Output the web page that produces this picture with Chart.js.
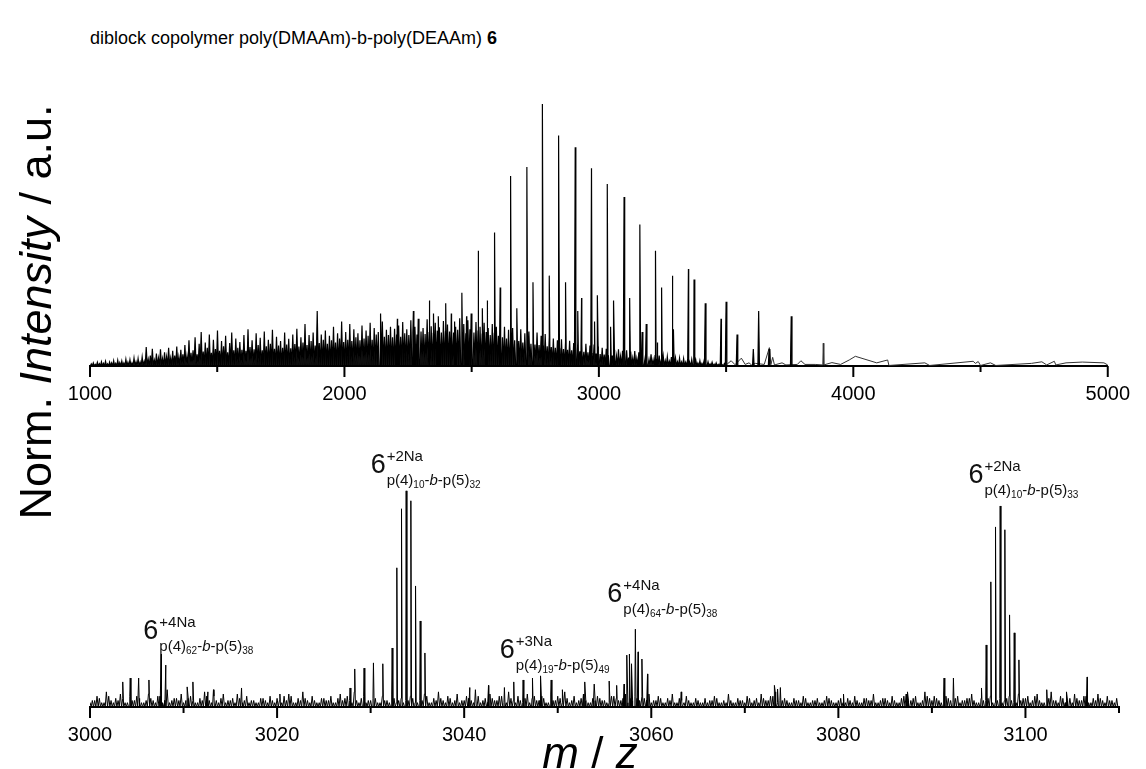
<!DOCTYPE html>
<html>
<head>
<meta charset="utf-8">
<script src="https://cdn.jsdelivr.net/npm/chart.js@4.4.1/dist/chart.umd.min.js"></script>
<style>
  body { margin: 0; width: 1146px; height: 769px; background: #fff; position: relative; overflow: hidden; font-family: 'Liberation Sans', Arial, sans-serif; }
  .box { position: absolute; left: 0; width: 1146px; }
  #title { position: absolute; left: 90px; top: 28px; font-size: 18px; color: #000; white-space: nowrap; }
  #ylab { position: absolute; left: -214px; top: 290px; width: 500px; line-height: 44px; font-size: 45px; text-align: center; transform: rotate(-90deg); white-space: nowrap; color: #000; }
  #xlab { position: absolute; left: 490px; top: 731px; width: 200px; line-height: 44px; font-size: 44px; text-align: center; white-space: nowrap; color: #000; }
</style>
</head>
<body>
<div id="title">diblock copolymer poly(DMAAm)-b-poly(DEAAm) <b>6</b></div>
<div class="box" style="top:0;height:416px"><canvas id="chartTop" width="1146" height="416"></canvas></div>
<div class="box" style="top:416px;height:341px"><canvas id="chartBottom" width="1146" height="341"></canvas></div>
<div id="ylab">Norm. <i>Intensity</i> / a.u.</div>
<div id="xlab"><i>m</i> / <i>z</i></div>
<script>
// ---- top spectrum (full range) ----
const grassStart = 1005, grassStep = 8;
const topGrassInt = [
  0.008,0.012,0.006,0.014,0.009,0.016,0.010,0.018,0.008,0.015,0.012,0.020,0.010,0.022,0.013,0.019,0.011,0.026,0.014,0.024,0.012,0.030,0.016,0.028,0.015,
  0.034,0.018,0.072,0.025,0.040,0.066,0.022,0.048,0.030,0.064,0.028,0.052,0.035,0.070,0.030,0.058,0.040,0.074,0.034,0.062,0.045,0.080,0.038,0.098,0.050,
  0.060,0.110,0.045,0.085,0.130,0.055,0.090,0.070,0.120,0.050,0.100,0.065,0.135,0.058,0.095,0.075,0.115,0.052,0.088,0.128,0.060,0.105,0.070,0.092,0.062,
  0.118,0.058,0.140,0.072,0.098,0.064,0.125,0.080,0.108,0.060,0.132,0.075,0.100,0.085,0.138,0.066,0.112,0.078,0.095,0.070,0.128,0.082,0.104,0.068,0.120,
  0.084,0.142,0.074,0.110,0.090,0.160,0.080,0.118,0.095,0.128,0.078,0.210,0.088,0.120,0.100,0.135,0.085,0.115,0.098,0.150,0.090,0.125,0.105,0.170,0.092,
  0.130,0.100,0.160,0.095,0.140,0.110,0.125,0.098,0.155,0.105,0.135,0.115,0.165,0.100,0.145,0.120,0.130,0.108,0.170,0.112,0.138,0.118,0.150,0.110,0.142,
  0.120,0.155,0.112,0.168,0.125,0.140,0.118,0.175,0.128,0.150,0.120,0.162,0.132,0.145,0.122,0.178,0.130,0.152,0.125,0.165,0.135,0.148,0.128,0.172,0.130,
  0.158,0.132,0.170,0.128,0.150,0.138,0.182,0.130,0.160,0.125,0.175,0.140,0.155,0.128,0.168,0.135,0.150,0.122,0.165,0.130,0.145,0.118,0.160,0.125,0.150,
  0.115,0.142,0.110,0.150,0.105,0.138,0.100,0.145,0.098,0.130,0.095,0.140,0.090,0.125,0.088,0.132,0.085,0.120,0.082,0.128,0.080,0.115,0.078,0.122,0.075,
  0.110,0.072,0.105,0.070,0.098,0.068,0.102,0.065,0.092,0.062,0.096,0.060,0.088,0.058,0.090,0.056,0.082,0.054,0.085,0.052,0.078,0.050,0.080,0.048,0.074,
  0.046,0.070,0.044,0.066,0.042,0.068,0.040,0.062,0.038,0.064,0.036,0.058,0.034,0.060,0.032,0.055,0.030,0.057,0.029,0.052,0.028,0.054,0.026,0.048,0.025,
  0.045,0.024,0.042,0.022,0.040,0.021,0.038,0.020,0.036,0.018,0.034,0.017,0.032,0.016,0.030,0.015,0.028,0.014,0.026,0.013,0.025,0.012,0.022,0.011,0.020,
  0.010,0.018,0.009,0.016,0.008,0.014,0.007,0.012,0.006,0.011,0.005,0.009
];
const topMainMz  = [2143, 2208, 2271, 2333, 2398, 2462, 2525, 2590, 2653, 2717, 2779, 2843, 2907, 2971, 3033, 3099, 3161, 3224, 3290, 3352, 3418, 3500, 3628, 3756];
const topMainInt = [0.20, 0.18, 0.21, 0.25, 0.24, 0.28, 0.44, 0.51, 0.725, 0.76, 1.0, 0.88, 0.835, 0.755, 0.695, 0.645, 0.54, 0.44, 0.345, 0.37, 0.24, 0.245, 0.21, 0.19];
const topMinorMz  = [2290, 2350, 2369, 2420, 2433, 2480, 2498, 2542, 2561, 2612, 2678, 2741, 2805, 2869, 2917, 2932, 2983, 2995, 3047, 3059, 3121, 3170, 3186, 3229, 3248, 3293, 3374, 3480, 3543, 3607, 3669];
const topMinorInt = [0.18, 0.20, 0.19, 0.20, 0.17, 0.19, 0.20, 0.22, 0.25, 0.30, 0.22, 0.32, 0.345, 0.32, 0.21, 0.26, 0.17, 0.27, 0.15, 0.25, 0.26, 0.13, 0.16, 0.09, 0.30, 0.14, 0.33, 0.18, 0.12, 0.065, 0.065];
const topTailMz  = [3505, 3520, 3535, 3560, 3575, 3590, 3600, 3615, 3650, 3670, 3676, 3683, 3690, 3720, 3735, 3780, 3794, 3810, 3850, 3880, 3882, 3884, 3916, 3950, 3984, 4008, 4092, 4135, 4140, 4281, 4300, 4471, 4480, 4491, 4500, 4539, 4560, 4700, 4741, 4760, 4790, 4796, 4836, 4900, 4985, 5000];
const topTailInt = [0.008, 0.02, 0.005, 0.03, 0.006, 0.012, 0.004, 0.01, 0.006, 0.07, 0.005, 0.033, 0.004, 0.012, 0.004, 0.006, 0.02, 0.006, 0.006, 0.004, 0.087, 0.004, 0.013, 0.006, 0.023, 0.037, 0.012, 0.023, 0.002, 0.012, 0.002, 0.018, 0.01, 0.017, 0.002, 0.012, 0.002, 0.01, 0.016, 0.004, 0.018, 0.004, 0.012, 0.015, 0.012, 0.004];

// ---- bottom spectrum (zoom 3000-3110) ----
const noiseStep = 0.5;
const noiseStartA = 3000.25;
const bottomNoiseA = [
  0.03,0.05,0.02,0.07,0.03,0.04,0.06,0.02,0.05,0.03, 0.04,0.02,0.06,0.03,0.05,0.02,0.08,0.03,0.04,0.06,
  0.03,0.05,0.02,0.04,0.07,0.03,0.05,0.02,0.06,0.03, 0.04,0.06,0.02,0.05,0.03,0.02,0.04,0.03,0.05,0.02,
  0.03,0.05,0.06,0.02,0.04,0.07,0.03,0.05,0.02,0.04, 0.03,0.05,0.02,0.06,0.04,0.03,0.07,0.02,0.05,0.03,
  0.04,0.02,0.05,0.03,0.06,0.02,0.04,0.03,0.05,0.02, 0.03,0.06,0.02,0.04,0.07,0.03,0.05,0.02,0.06,0.03,
  0.05,0.03,0.08,0.02,0.04,0.06,0.03,0.05,0.02,0.07, 0.03,0.05,0.02,0.06,0.04,0.03,0.05,0.02,0.06,0.03,
  0.04,0.07,0.02,0.05,0.03,0.06,0.02,0.04,0.05,0.03, 0.02,0.05,0.04,0.03,0.06,0.04,0.05,0.03,0.04,0.06,
  0.03,0.05,0.02,0.04,0.06,0.02,0.03,0.05,0.02,0.04, 0.02,0.04,0.03,0.05,0.02,0.03,0.06,0.02,0.04,0.03,
  0.05,0.02,0.04,0.06,0.03,0.05,0.07,0.03,0.04,0.02, 0.04,0.03,0.05,0.02,0.03,0.04,0.02,0.05,0.03,0.02,
  0.04,0.02,0.03,0.05,0.02,0.04,0.03,0.06,0.02,0.04, 0.03,0.05,0.02,0.04,0.06,0.03,0.05,0.02,0.07,0.04,
  0.05,0.03,0.06,0.04,0.02,0.05,0.03,0.04,0.06,0.02, 0.04,0.03,0.05,0.02,0.04,0.03,0.05,0.02,0.06,0.04,
  0.05,0.03,0.06,0.02,0.04,0.07,0.03,0.05,0.02,0.04, 0.06,0.03,0.05,0.02,0.04,0.06,0.03,0.05,0.03,0.04
];
const noiseStartB = 3000.0;
const bottomNoiseB = [
  0.02,0.03,0.04,0.02,0.05,0.02,0.03,0.04,0.02,0.03, 0.05,0.02,0.03,0.04,0.02,0.05,0.03,0.02,0.04,0.03,
  0.02,0.04,0.03,0.02,0.03,0.05,0.02,0.03,0.04,0.02, 0.03,0.02,0.04,0.03,0.02,0.03,0.02,0.04,0.02,0.03,
  0.04,0.02,0.03,0.05,0.02,0.03,0.04,0.02,0.03,0.02, 0.04,0.03,0.02,0.04,0.03,0.05,0.02,0.03,0.04,0.02,
  0.03,0.04,0.02,0.03,0.02,0.04,0.03,0.02,0.03,0.04, 0.02,0.03,0.05,0.02,0.03,0.04,0.02,0.04,0.03,0.02,
  0.03,0.04,0.02,0.05,0.03,0.02,0.04,0.03,0.05,0.02, 0.04,0.02,0.03,0.04,0.02,0.05,0.03,0.04,0.02,0.03,
  0.05,0.02,0.04,0.03,0.02,0.04,0.03,0.02,0.03,0.04, 0.03,0.02,0.05,0.03,0.04,0.02,0.03,0.04,0.05,0.03,
  0.02,0.03,0.04,0.02,0.03,0.02,0.04,0.02,0.03,0.02, 0.03,0.02,0.02,0.03,0.04,0.02,0.02,0.03,0.02,0.03,
  0.02,0.04,0.03,0.02,0.04,0.03,0.05,0.02,0.03,0.03, 0.02,0.03,0.02,0.04,0.02,0.03,0.02,0.03,0.04,0.02,
  0.03,0.02,0.04,0.02,0.03,0.02,0.04,0.03,0.02,0.03, 0.04,0.02,0.03,0.02,0.05,0.03,0.04,0.02,0.03,0.05,
  0.03,0.04,0.02,0.05,0.03,0.04,0.02,0.03,0.04,0.03, 0.02,0.03,0.04,0.02,0.03,0.02,0.04,0.03,0.02,0.03,
  0.04,0.02,0.05,0.03,0.02,0.04,0.03,0.02,0.04,0.03, 0.02,0.04,0.03,0.05,0.02,0.03,0.04,0.02,0.03,0.02
];
const bottomPeakMz = [
  3003.5, 3004.3, 3005.2, 3006.3, 3007.6, 3008.1, 3010.4, 3011.0, 3012.6, 3013.2, 3016.2, 3020.3,
  3027.8, 3028.3, 3029.3, 3030.3, 3031.3, 3032.3, 3032.8, 3033.3, 3033.8, 3034.3, 3034.8, 3035.3, 3035.8,
  3040.6, 3041.2, 3042.6, 3044.3, 3045.3, 3046.3, 3047.3, 3048.2, 3049.3, 3050.5, 3052.9, 3053.9, 3055.5, 3056.3,
  3057.1, 3057.4, 3057.7, 3057.9, 3058.3, 3058.6, 3059.0, 3059.6,
  3063.2, 3073.2, 3073.5, 3073.8, 3080.6, 3087.4,
  3091.3, 3092.3, 3095.3, 3095.8, 3096.3, 3096.8, 3097.3, 3097.8, 3098.3, 3098.8, 3099.3,
  3102.3, 3104.4, 3106.6
];
const bottomPeakInt = [
  0.116, 0.134, 0.134, 0.125, 0.245, 0.194, 0.093, 0.116, 0.07, 0.08, 0.088, 0.06,
  0.088, 0.176, 0.18, 0.204, 0.2, 0.273, 0.644, 0.917, 1.0, 0.954, 0.56, 0.398, 0.25,
  0.09, 0.08, 0.10, 0.09, 0.116, 0.125, 0.134, 0.144, 0.125, 0.08, 0.116, 0.106, 0.12, 0.10,
  0.106, 0.24, 0.245, 0.2, 0.36, 0.255, 0.222, 0.153,
  0.07, 0.10, 0.083, 0.09, 0.06, 0.07,
  0.134, 0.134, 0.088, 0.287, 0.579, 0.833, 0.93, 0.82, 0.426, 0.343, 0.218,
  0.08, 0.07, 0.139
];

// peak labels: species, adduct, block lengths, anchored at (m/z, intensity)
const labelMz    = [3005.7, 3030.0, 3043.8, 3055.3, 3093.9];
const labelLevel = [0.315, 1.083, 0.227, 0.486, 1.037];
const labelAdduct = ['+4Na', '+2Na', '+3Na', '+4Na', '+2Na'];
const labelN4 = ['62', '10', '19', '64', '10'];
const labelN5 = ['38', '32', '49', '38', '33'];

// build stick profiles from peak lists
function sticks(mz, ints, half) {
  const pts = [];
  mz.forEach((m, i) => {
    pts.push({ x: m - half, y: 0 }, { x: m, y: ints[i] }, { x: m + half, y: 0 });
  });
  return pts;
}

const grassMz = topGrassInt.map((v, i) => grassStart + i * grassStep);
const topProfile = [
  ...sticks(grassMz, topGrassInt, grassStep / 2),
  ...sticks(topMainMz, topMainInt, 3),
  ...sticks(topMinorMz, topMinorInt, 3)
].sort((a, b) => a.x - b.x);
const topTail = topTailMz.map((m, i) => ({ x: m, y: topTailInt[i] }));

const noiseMzA = bottomNoiseA.map((v, i) => noiseStartA + i * noiseStep);
const noiseMzB = bottomNoiseB.map((v, i) => noiseStartB + i * noiseStep);
const bottomProfile = [
  ...sticks(noiseMzA, bottomNoiseA, 0.125),
  ...sticks(noiseMzB, bottomNoiseB, 0.125),
  ...sticks(bottomPeakMz, bottomPeakInt, 0.1)
].sort((a, b) => a.x - b.x);

const FONT = "'Liberation Sans', Arial, sans-serif";

// major / minor tick marks below the axis
const tickMarks = {
  id: 'tickMarks',
  afterDraw(chart) {
    const { ctx, chartArea } = chart;
    const x = chart.scales.x;
    ctx.save();
    ctx.strokeStyle = '#000';
    ctx.lineWidth = 2;
    x.ticks.forEach(t => {
      const px = x.getPixelForValue(t.value);
      const len = t.label !== '' ? 11 : 6;
      ctx.beginPath();
      ctx.moveTo(px, chartArea.bottom);
      ctx.lineTo(px, chartArea.bottom + len);
      ctx.stroke();
    });
    ctx.restore();
  }
};

const peakLabels = {
  id: 'peakLabels',
  afterDraw(chart) {
    const { ctx } = chart;
    const xs = chart.scales.x, ys = chart.scales.y;
    ctx.save();
    ctx.fillStyle = '#111';
    ctx.textBaseline = 'alphabetic';
    labelMz.forEach((m, i) => {
      const x0 = xs.getPixelForValue(m);
      const y0 = ys.getPixelForValue(labelLevel[i]);
      ctx.font = '27px ' + FONT;
      ctx.fillText('6', x0, y0);
      const xs1 = x0 + ctx.measureText('6').width + 1;
      ctx.font = '15px ' + FONT;
      ctx.fillText(labelAdduct[i], xs1, y0 - 12);
      const parts = [
        ['p(4)', '15px ', 0], [labelN4[i], '10px ', 3], ['-', '15px ', 0],
        ['b', 'italic 15px ', 0], ['-p(5)', '15px ', 0], [labelN5[i], '10px ', 3]
      ];
      let cx = xs1;
      parts.forEach(([txt, f, dy]) => {
        ctx.font = f + FONT;
        ctx.fillText(txt, cx, y0 + 12 + dy);
        cx += ctx.measureText(txt).width;
      });
    });
    ctx.restore();
  }
};

function makeChart(id, datasets, xmin, xmax, step, labelEvery, ymax, padTop, extra) {
  return new Chart(document.getElementById(id), {
    type: 'line',
    data: { datasets: datasets },
    options: {
      responsive: false,
      animation: false,
      parsing: false,
      normalized: true,
      layout: { padding: { left: 90, right: 27, top: padTop, bottom: 0 } },
      plugins: { legend: { display: false }, tooltip: { enabled: false }, filler: { propagate: false } },
      elements: { point: { radius: 0 }, line: { tension: 0, borderColor: '#000' } },
      scales: {
        x: {
          type: 'linear',
          min: xmin,
          max: xmax,
          grid: { display: false, drawTicks: false },
          border: { display: true, color: '#000', width: 2 },
          ticks: {
            stepSize: step,
            padding: 16,
            color: '#000',
            autoSkip: false,
            maxRotation: 0,
            font: { family: FONT, size: 20 },
            callback: v => (v % labelEvery === 0 ? String(v) : '')
          },
          afterFit: s => { s.height = 50; }
        },
        y: { display: false, min: 0, max: ymax }
      }
    },
    plugins: extra
  });
}

makeChart('chartTop', [
  { data: topProfile, borderColor: '#000', borderWidth: 1.2, fill: 'origin', backgroundColor: 'rgba(0,0,0,0.9)' },
  { data: topTail, borderColor: '#333', borderWidth: 1, fill: false }
], 1000, 5000, 500, 1000, 1.13, 70, [tickMarks]);

makeChart('chartBottom', [
  { data: bottomProfile, borderColor: '#000', borderWidth: 1, fill: false }
], 3000, 3110, 10, 20, 1.30, 10, [tickMarks, peakLabels]);
</script>
</body>
</html>
